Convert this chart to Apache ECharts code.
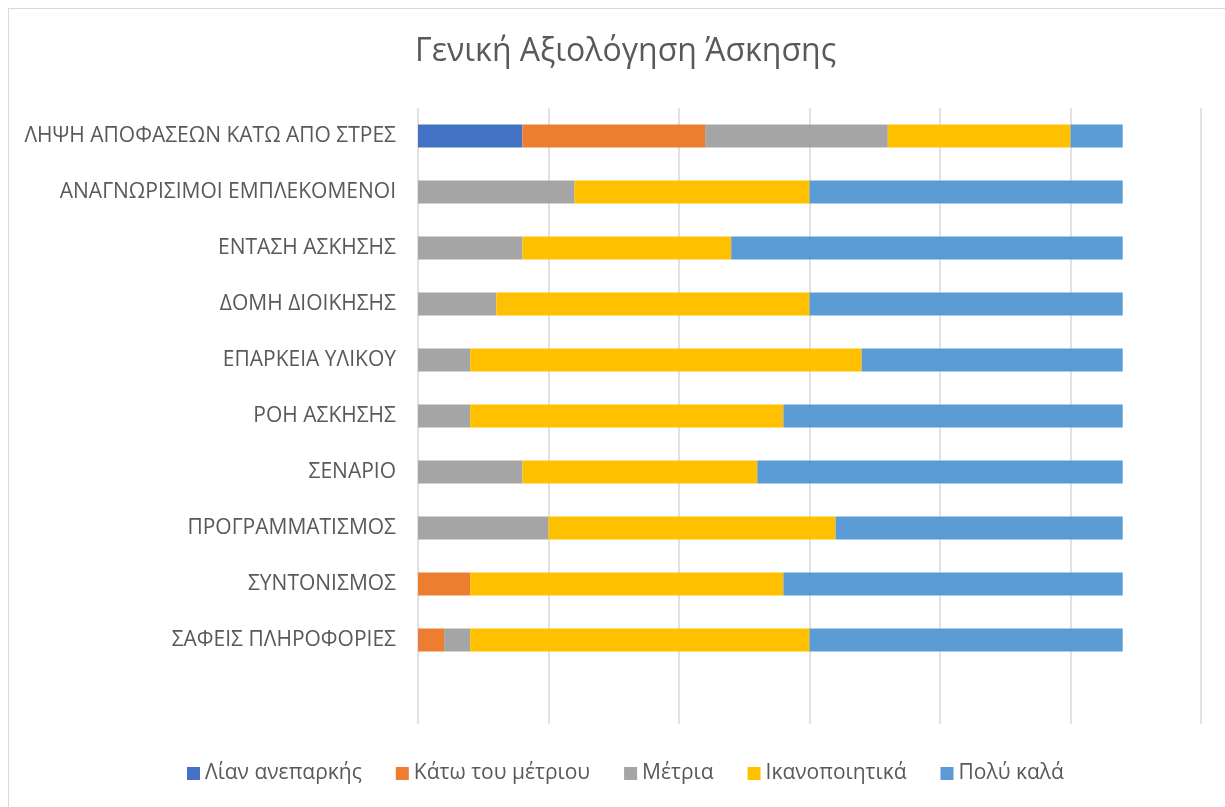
<!DOCTYPE html>
<html>
<head>
<meta charset="utf-8">
<script src="https://cdn.jsdelivr.net/npm/echarts@6/dist/echarts.min.js"></script>
<style>
html,body{margin:0;padding:0;background:#fff;overflow:hidden;}
#frame{position:absolute;left:8px;top:8px;width:1240px;height:820px;border:1.5px solid #d9d9d9;box-sizing:border-box;}
#chart{position:absolute;left:0;top:0;width:1225px;height:807px;}
</style>
</head>
<body>
<div id="frame"></div>
<div id="chart"></div>
<script>
const categories = ["", "ΣΑΦΕΙΣ ΠΛΗΡΟΦΟΡΙΕΣ", "ΣΥΝΤΟΝΙΣΜΟΣ", "ΠΡΟΓΡΑΜΜΑΤΙΣΜΟΣ", "ΣΕΝΑΡΙΟ", "ΡΟΗ ΑΣΚΗΣΗΣ", "ΕΠΑΡΚΕΙΑ ΥΛΙΚΟΥ", "ΔΟΜΗ ΔΙΟΙΚΗΣΗΣ", "ΕΝΤΑΣΗ ΑΣΚΗΣΗΣ", "ΑΝΑΓΝΩΡΙΣΙΜΟΙ ΕΜΠΛΕΚΟΜΕΝΟΙ", "ΛΗΨΗ ΑΠΟΦΑΣΕΩΝ ΚΑΤΩ ΑΠΟ ΣΤΡΕΣ"];
const seriesNames = ["Λίαν ανεπαρκής", "Κάτω του μέτριου", "Μέτρια", "Ικανοποιητικά", "Πολύ καλά"];
const lianAneparkis = [null, 0, 0, 0, 0, 0, 0, 0, 0, 0, 4];
const katoMetriou   = [null, 1, 2, 0, 0, 0, 0, 0, 0, 0, 7];
const metria        = [null, 1, 0, 5, 4, 2, 2, 3, 4, 6, 7];
const ikanopoiitika = [null, 13, 12, 11, 9, 12, 15, 12, 8, 9, 7];
const polyKala      = [null, 12, 13, 11, 14, 13, 10, 12, 15, 12, 2];
const title = "Γενική Αξιολόγηση Άσκησης";

const colors = ["#4472C4", "#ED7D31", "#A5A5A5", "#FFC000", "#5B9BD5"];
const values = [lianAneparkis, katoMetriou, metria, ikanopoiitika, polyKala];
const FONT = "'Open Sans', 'Noto Sans', sans-serif";

const chart = echarts.init(document.getElementById('chart'), null, {renderer: 'canvas'});
chart.setOption({
  animation: false,
  color: colors,
  title: {
    text: title,
    left: 410,
    top: 31,
    textStyle: {fontFamily: FONT, fontSize: 32, fontWeight: 'normal', color: '#595959'}
  },
  legend: {
    bottom: 18,
    left: 182,
    icon: 'rect',
    itemWidth: 13,
    itemHeight: 13,
    itemGap: 34,
    textStyle: {fontFamily: FONT, fontSize: 21, color: '#595959'},
    data: seriesNames
  },
  grid: {left: 418, right: 24, top: 108, bottom: 83, containLabel: false},
  xAxis: {
    type: 'value',
    min: 0, max: 30, interval: 5,
    axisLabel: {show: false},
    axisLine: {show: false},
    axisTick: {show: false},
    splitLine: {show: true, lineStyle: {color: '#d9d9d9', width: 1.5}}
  },
  yAxis: {
    type: 'category',
    data: categories,
    axisLine: {show: false},
    axisTick: {show: false},
    axisLabel: {fontFamily: FONT, fontSize: 21, color: '#595959', margin: 22},
    splitLine: {show: false}
  },
  series: seriesNames.map((name, i) => ({
    name: name,
    type: 'bar',
    stack: 'total',
    barWidth: 23,
    data: values[i],
    itemStyle: {color: colors[i]}
  }))
});
</script>
</body>
</html>
